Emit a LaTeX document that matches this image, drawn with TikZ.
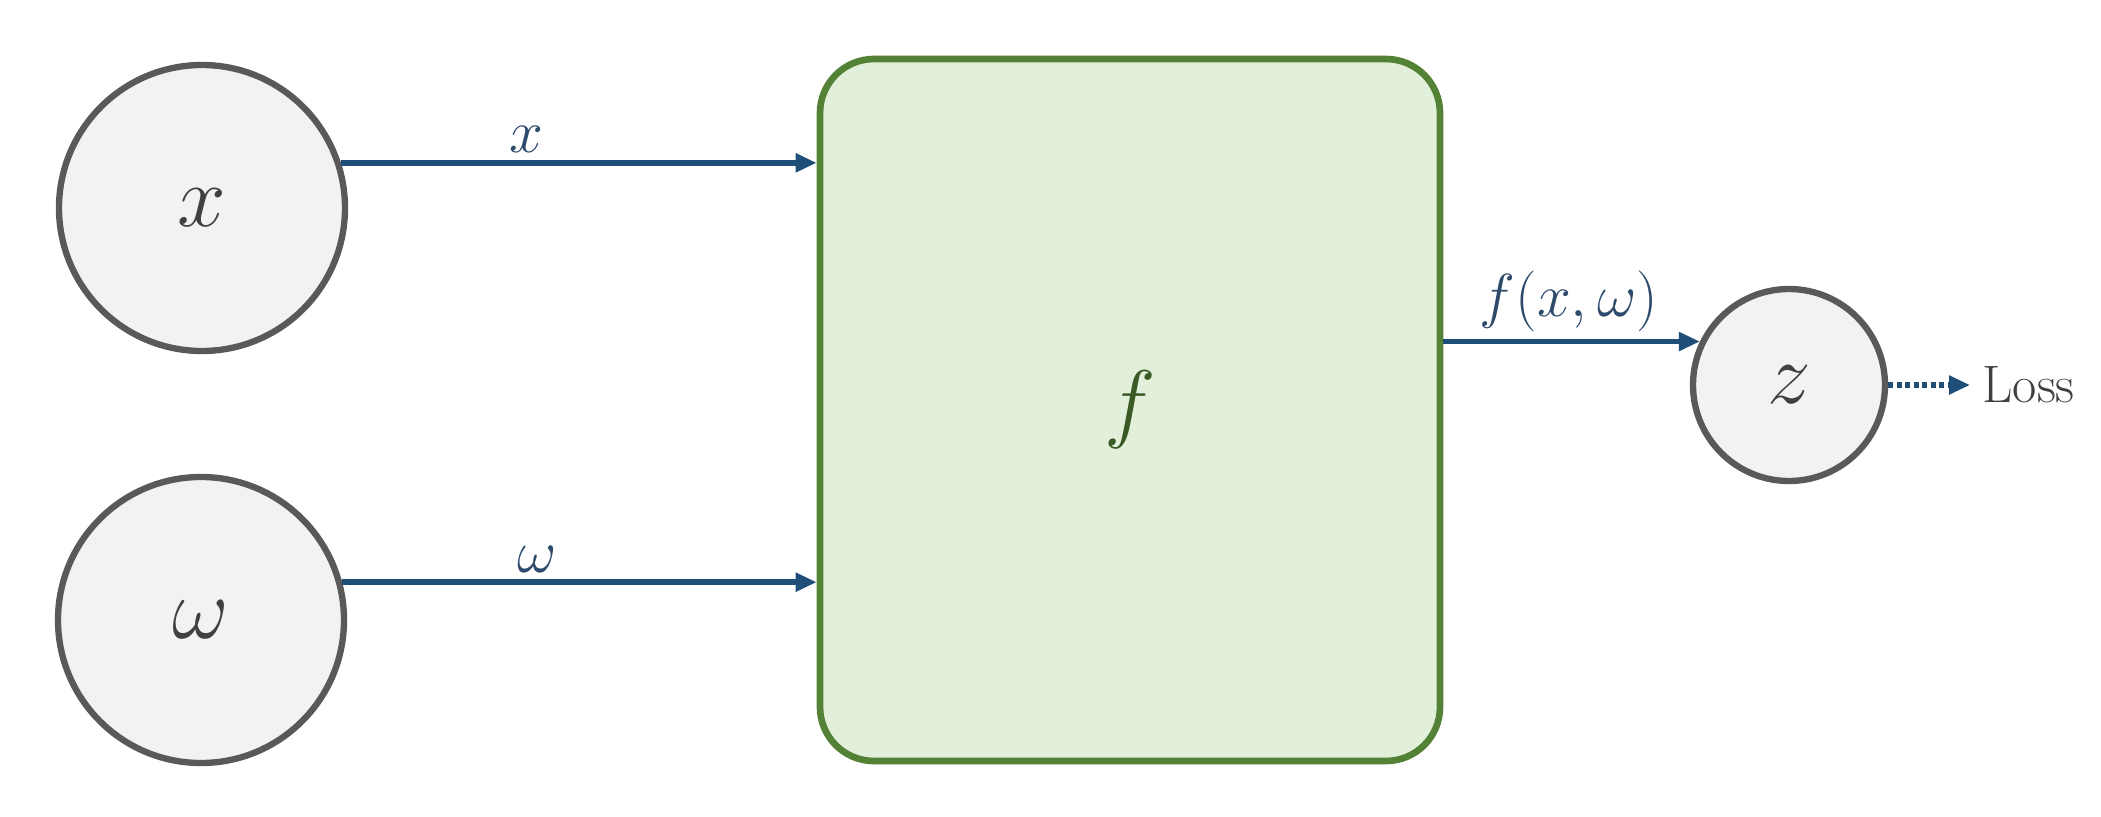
\documentclass[tikz,border=0pt]{standalone}
\usepackage{amsmath,amssymb}
\usepackage{xcolor}
\usepackage{tikz}
\usetikzlibrary{arrows.meta,positioning,shapes.geometric}

\definecolor{nodegray}{HTML}{F2F2F2}
\definecolor{rimgray}{HTML}{595959}
\definecolor{boxgreen}{HTML}{E2EFDA}
\definecolor{rimgreen}{HTML}{538135}
\definecolor{arrblue}{HTML}{1F4E79}
\definecolor{lblblue}{HTML}{2E4A6B}

\begin{document}
\begin{tikzpicture}[
    var/.style={draw=rimgray, line width=1.8pt, circle, fill=nodegray, minimum size=2.86cm, inner sep=0pt, text=black!75, font=\fontsize{30}{36}\selectfont},
    outv/.style={draw=rimgray, line width=1.8pt, circle, fill=nodegray, minimum size=1.92cm, inner sep=0pt, text=black!75, font=\fontsize{30}{36}\selectfont},
    fbox/.style={draw=rimgreen, line width=1.9pt, rounded corners=0.54cm, fill=boxgreen, minimum width=6.2cm, minimum height=7.02cm, text=rimgreen!70!black, font=\fontsize{28}{34}\selectfont},
    lbl/.style={text=lblblue, font=\fontsize{16}{19}\selectfont, inner sep=2pt},
    arr/.style={-{Triangle[length=0.21cm, width=0.18cm]}, line width=1.6pt, arrblue},
    darr/.style={-{Triangle[length=0.21cm, width=0.18cm]}, line width=1.8pt, arrblue, dash pattern=on 0.05cm off 0.035cm},
]
\useasboundingbox (0,0) rectangle (21.01,-8.17);

% Inputs (left column)
\node[var] (xin) at (2.02, -2.08) {$x$};
\node[var] (win) at (2.01, -6.20) {$\omega$};

% Function block (middle)
\node[fbox] (fun) at (11.30, -4.10) {$f$};

% Output and loss (right)
\node[outv] (zout) at (17.89, -3.85) {$z$};
\node[font=\fontsize{15}{18}\selectfont, text=black!75, anchor=west] (loss) at (19.70, -3.85) {Loss};

% Inputs into f
\draw[arr] (xin.18) -- node[lbl, above, pos=0.39] {$x$} (xin.18 -| fun.west);
\draw[arr] (win.15) -- node[lbl, above, pos=0.41] {$\omega$} (win.15 -| fun.west);

% f out to z, then to the loss
\draw[arr] (fun.east |- zout.154) -- node[lbl, above, pos=0.49] {$f(x,\omega)$} (zout.154);
\draw[darr] (zout.east) -- (loss.west);

\end{tikzpicture}
\end{document}
